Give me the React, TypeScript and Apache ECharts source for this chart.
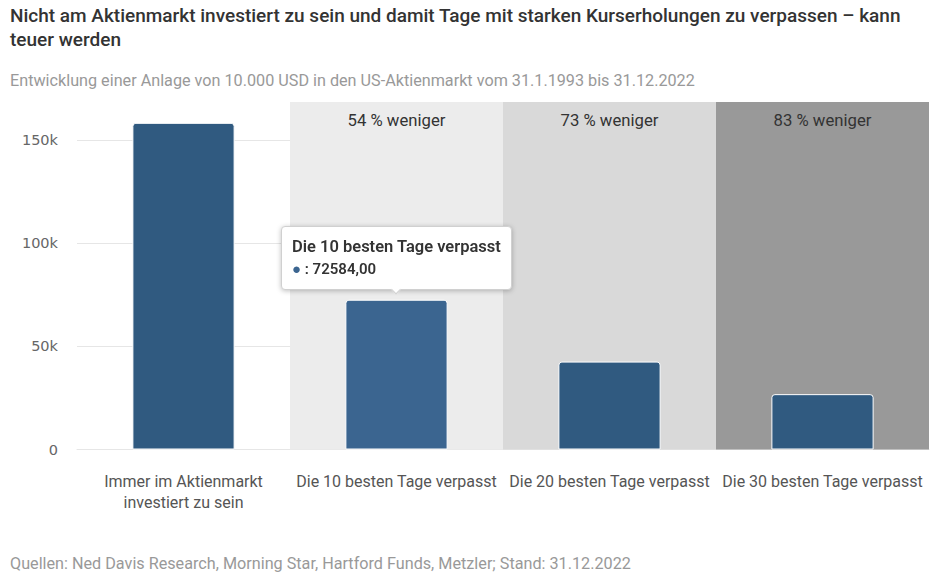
import React, { useEffect, useRef } from 'react';
import * as echarts from 'echarts';

const FONT = 'Roboto, "Open Sans", sans-serif';

const titleText = 'Nicht am Aktienmarkt investiert zu sein und damit Tage mit starken Kurserholungen zu verpassen – kann\nteuer werden';
const subtitleText = 'Entwicklung einer Anlage von 10.000 USD in den US-Aktienmarkt vom 31.1.1993 bis 31.12.2022';
const sourceText = 'Quellen: Ned Davis Research, Morning Star, Hartford Funds, Metzler; Stand: 31.12.2022';

const categories = [
  'Immer im Aktienmarkt\ninvestiert zu sein',
  'Die 10 besten Tage verpasst',
  'Die 20 besten Tage verpasst',
  'Die 30 besten Tage verpasst',
];
const values = [158300, 72584, 42604, 26824];
const bandLabels = ['', '54 % weniger', '73 % weniger', '83 % weniger'];
const bandColors = ['transparent', '#ececec', '#d9d9d9', '#999999'];
const barColors = ['#305a80', '#3b6590', '#305a80', '#305a80'];
const yMax = 168400;
const yInterval = 50000;

export default function App() {
  const ref = useRef<HTMLDivElement>(null);
  useEffect(() => {
    if (!ref.current) return;
    const chart = echarts.init(ref.current, undefined, { renderer: 'svg' });
    chart.setOption({
      animation: false,
      title: [
        {
          text: titleText,
          left: 10,
          top: 3,
          padding: 0,
          textStyle: { fontFamily: FONT, fontSize: 19, fontWeight: 500, color: '#333', lineHeight: 24 },
        },
        {
          text: subtitleText,
          left: 10,
          top: 70,
          padding: 0,
          textStyle: { fontFamily: FONT, fontSize: 16.2, fontWeight: 'normal', color: '#999', lineHeight: 20 },
        },
        {
          text: sourceText,
          left: 10,
          top: 553,
          padding: 0,
          textStyle: { fontFamily: FONT, fontSize: 16.2, fontWeight: 'normal', color: '#999', lineHeight: 20 },
        },
      ],
      grid: { left: 77, right: 10, top: 102, bottom: 135.5, containLabel: false },
      tooltip: {
        trigger: 'item',
        triggerOn: 'none',
        alwaysShowContent: true,
        position: 'top',
        backgroundColor: '#ffffff',
        borderColor: '#d0d0d0',
        borderWidth: 1,
        padding: [9, 10],
        textStyle: { fontFamily: FONT, fontSize: 16, color: '#333' },
        extraCssText: 'box-shadow: 0 1px 5px rgba(0,0,0,0.25); border-radius: 4px;',
        formatter: (p: any) => {
          const v = Number(p.value).toFixed(2).replace('.', ',');
          return `<div style="font-weight:600;font-size:16.5px;line-height:22px;color:#333">${p.name}</div>` +
            `<div style="font-weight:600;font-size:15px;line-height:22px;color:#333"><span style="color:${p.color}">●</span> : ${v}</div>`;
        },
      },
      xAxis: [
        {
          type: 'category',
          data: categories,
          axisTick: { show: false },
          axisLine: { lineStyle: { color: '#e6e6e6', width: 1 } },
          axisLabel: { color: '#555', fontFamily: FONT, fontSize: 16, lineHeight: 21, margin: 21, interval: 0 },
        },
        {
          type: 'category',
          data: categories,
          show: false,
        },
      ],
      yAxis: {
        type: 'value',
        min: 0,
        max: yMax,
        interval: yInterval,
        axisLine: { show: false },
        axisTick: { show: false },
        axisLabel: {
          color: '#666',
          fontFamily: '"DejaVu Sans", sans-serif',
          fontSize: 14.5,
          margin: 19,
          showMaxLabel: false,
          formatter: (v: number) => (v === 0 ? '0' : `${v / 1000}k`),
        },
        splitLine: { showMaxLine: false, lineStyle: { color: '#e6e6e6', width: 1 } },
      },
      series: [
        {
          type: 'bar',
          xAxisIndex: 1,
          barWidth: '100%',
          silent: true,
          tooltip: { show: false },
          z: 1,
          data: categories.map((c, i) =>
            i === 0
              ? '-'
              : {
                  value: yMax,
                  itemStyle: { color: bandColors[i] },
                  label: {
                    show: true,
                    position: 'insideTop',
                    distance: 10,
                    formatter: bandLabels[i],
                    color: '#333',
                    fontFamily: FONT,
                    fontSize: 16.7,
                  },
                }
          ),
        },
        {
          type: 'bar',
          xAxisIndex: 0,
          barWidth: '48%',
          z: 3,
          data: values.map((v, i) => ({
            value: v,
            itemStyle: {
              color: barColors[i],
              borderColor: '#ffffff',
              borderWidth: 1,
              borderRadius: [3, 3, 0, 0],
            },
          })),
        },
      ],
    });
    chart.dispatchAction({ type: 'showTip', seriesIndex: 1, dataIndex: 1 });
    return () => chart.dispose();
  }, []);
  return <div ref={ref} style={{ position: 'absolute', left: 0, top: 0, width: 939, height: 585 }} />;
}
